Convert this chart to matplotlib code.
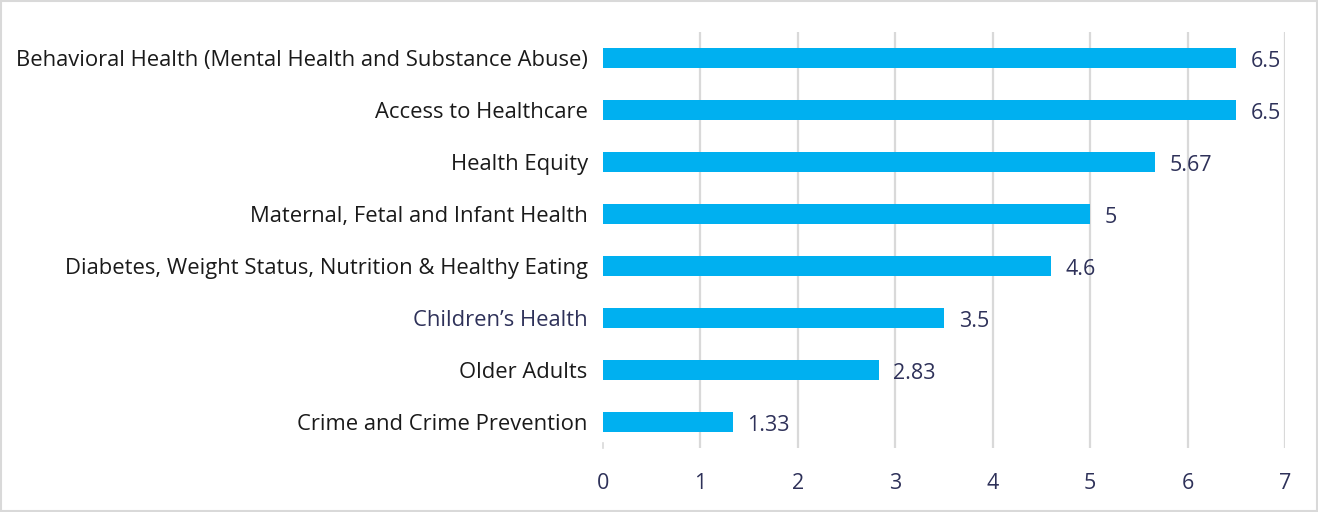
import matplotlib.pyplot as plt
import matplotlib.transforms as mtransforms
from matplotlib.patches import Rectangle

plt.rcParams['font.family'] = ['Open Sans', 'DejaVu Sans']

# Priority areas and their average scores
categories = [
    "Behavioral Health (Mental Health and Substance Abuse)",
    "Access to Healthcare",
    "Health Equity",
    "Maternal, Fetal and Infant Health",
    "Diabetes, Weight Status, Nutrition & Healthy Eating",
    "Children\u2019s Health",
    "Older Adults",
    "Crime and Crime Prevention",
]
scores = [6.5, 6.5, 5.67, 5, 4.6, 3.5, 2.83, 1.33]
score_labels = ["6.5", "6.5", "5.67", "5", "4.6", "3.5", "2.83", "1.33"]
x_ticks = [0, 1, 2, 3, 4, 5, 6, 7]

bar_color = "#00B0F0"
navy = "#2E3159"

fig = plt.figure(figsize=(13.18, 5.12), dpi=100)
ax = fig.add_axes([603 / 1318, 1 - 448 / 512, 682 / 1318, 416 / 512])

y = list(range(len(categories)))
ax.barh(y, scores, height=0.37, color=bar_color, zorder=3)

for yi, v, lab in zip(y, scores, score_labels):
    ax.text(v + 0.15, yi + 0.07, lab, va="center", ha="left",
            fontsize=15.5, color=navy)

ax.set_xlim(0, 7)
ax.set_ylim(len(categories) - 0.5, -0.5)
ax.set_yticks(y)
ax.set_yticklabels(categories, fontsize=15.8)
shift = mtransforms.ScaledTranslation(0, -3 / 100, fig.dpi_scale_trans)
for i, t in enumerate(ax.get_yticklabels()):
    t.set_color(navy if i == 5 else "#1a1a1a")
    t.set_transform(t.get_transform() + shift)
ax.tick_params(axis="y", length=0, pad=11)

ax.set_xticks(x_ticks)
ax.set_xticklabels([str(t) for t in x_ticks], fontsize=15.5, color=navy)
ax.tick_params(axis="x", length=0, pad=18)

for t in x_ticks[1:]:
    ax.axvline(t, color="#D9D9D9", linewidth=1.6, zorder=1)
ax.plot([0, 0], [7.5, 7.4], color="#D9D9D9", linewidth=1.2, clip_on=False)

for s in ax.spines.values():
    s.set_visible(False)

# light frame around the whole chart
fig.patches.append(Rectangle((0.001, 0.002), 0.998, 0.996, transform=fig.transFigure,
                             fill=False, edgecolor="#D9D9D9", linewidth=1.5))

fig.savefig("out.png", dpi=100)
